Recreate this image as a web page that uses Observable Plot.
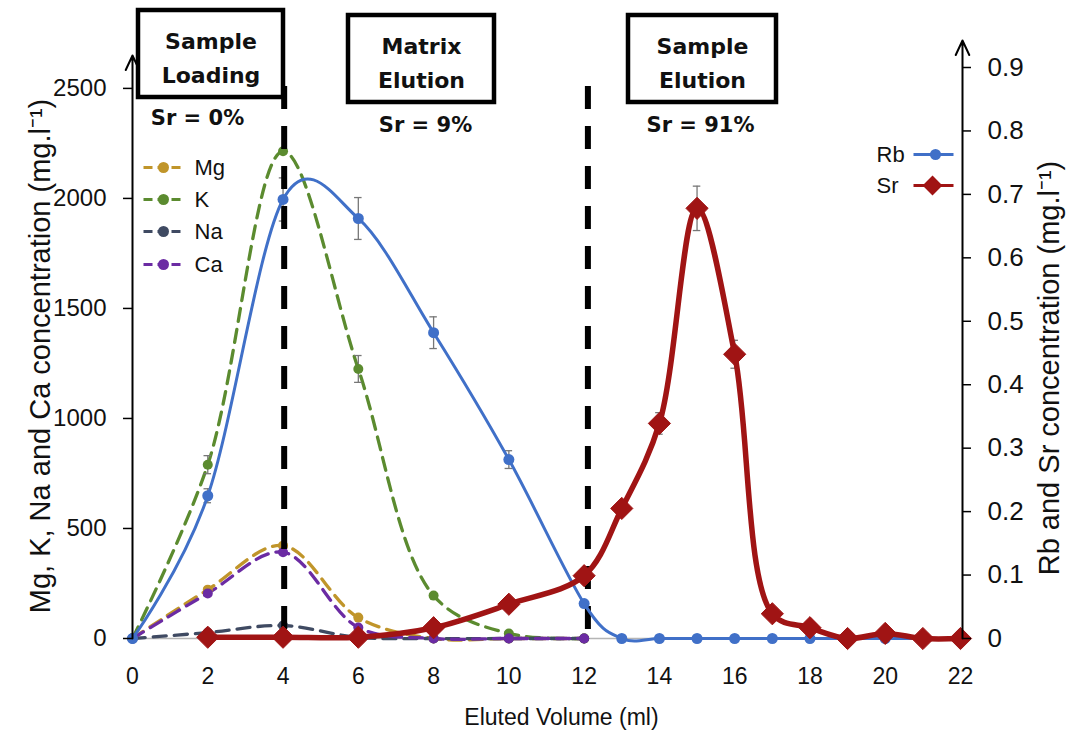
<!DOCTYPE html>
<html><head><meta charset="utf-8">
<script src="https://cdn.jsdelivr.net/npm/d3@7"></script>
<script src="https://cdn.jsdelivr.net/npm/@observablehq/plot@0.6"></script>
<style>
html,body{margin:0;padding:0;background:#fff;}
#chart svg{display:block;}
</style></head><body><div id="chart"></div>
<script>
// ---------- DATA ----------
// Left axis elements (mg.l-1)
const volumes = [0, 2, 4, 6, 8, 10, 12];
const mg = [0, 222, 422, 95, 0, 0, 0];
const kVals = [0, 790, 2214, 1225, 195, 23, 0];
const na = [0, 27, 59, 5, 0, 0, 0];
const ca = [0, 205, 392, 50, 0, 0, 0];
const kErr = [0, 41, 0, 61, 0, 0, 0];
// Right axis elements (mg.l-1)
const rbVolumes = [0, 2, 4, 6, 8, 10, 12, 13, 14, 15, 16, 17, 18, 19, 20, 21, 22];
const rb = [0, 0.225, 0.692, 0.662, 0.482, 0.282, 0.055, 0, 0, 0, 0, 0, 0, 0, 0, 0, 0];
const rbErr = [0, 0.011, 0.034, 0.033, 0.025, 0.014, 0, 0, 0, 0, 0, 0, 0, 0, 0, 0, 0];
const srVolumes = [2, 4, 6, 8, 10, 12, 13, 14, 15, 16, 17, 18, 19, 20, 21, 22];
const sr = [0.002, 0.002, 0.002, 0.017, 0.054, 0.099, 0.205, 0.339, 0.678, 0.448, 0.039, 0.017, 0, 0.008, 0, 0];
const srErr = [0, 0, 0, 0, 0, 0, 0, 0.017, 0.035, 0.022, 0, 0, 0, 0, 0, 0];
// Ticks and labels
const xTicks = [0, 2, 4, 6, 8, 10, 12, 14, 16, 18, 20, 22];
const leftTicks = [0, 500, 1000, 1500, 2000, 2500];
const rightTicks = [0, 0.1, 0.2, 0.3, 0.4, 0.5, 0.6, 0.7, 0.8, 0.9];
const leftNames = ["Mg", "K", "Na", "Ca"];
const rightNames = ["Rb", "Sr"];
const phaseNames = ["Sample\nLoading", "Matrix\nElution", "Sample\nElution"];
const phaseSr = ["Sr = 0%", "Sr = 9%", "Sr = 91%"];
const phaseBounds = [4, 12];
const xTitle = "Eluted Volume (ml)";
const yLeftTitle = "Mg, K, Na and Ca concentration (mg.l⁻¹)";
const yRightTitle = "Rb and Sr concentration (mg.l⁻¹)";

// ---------- LAYOUT / STYLE ----------
const W = 1077, H = 731, mL = 132, mR = 117, mT = 67, mB = 93;
const yTop = 2595, rTop = 0.9, kR = yTop / rTop;
const colors = {Mg: "#c0952a", K: "#5b8b2f", Na: "#3f4a62", Ca: "#6b2ba3", Rb: "#4070c8", Sr: "#a01414"};
const xd = px => (px - mL) / ((W - mL - mR) / 22);
const yd = py => (H - mB - py) / ((H - mB - mT) / yTop);
const font = "'Liberation Sans', Arial, sans-serif";
const boldFont = "'DejaVu Sans', sans-serif";

const leftRows = [];
const leftVals = {Mg: mg, K: kVals, Na: na, Ca: ca};
for (const n of leftNames) volumes.forEach((v, i) => leftRows.push({name: n, x: v, y: leftVals[n][i], e: n === "K" ? kErr[i] : 0}));
const rbRows = rbVolumes.map((v, i) => ({x: v, y: rb[i] * kR, e: rbErr[i] * kR}));
const srRows = srVolumes.map((v, i) => ({x: v, y: sr[i] * kR, e: srErr[i] * kR}));
const errRows = [...leftRows, ...rbRows, ...srRows].filter(d => d.e > 0);

const boxes = [
  {px1: 138, px2: 283, py1: 10, py2: 97},
  {px1: 348, px2: 494, py1: 15, py2: 102},
  {px1: 628, px2: 776, py1: 15, py2: 102}
].map((b, i) => ({...b, label: phaseNames[i], sr: phaseSr[i]}));
const srLabelPos = [[197, 118], [425, 125], [700, 125]];

const legL = leftNames.map((n, i) => ({name: n, py: [167, 199, 231, 264][i]}));
const legR = rightNames.map((n, i) => ({name: n, py: [154, 185][i]}));

const curve = "catmull-rom";
const dash = "13,8";

const marks = [
  // baseline
  Plot.ruleY([0], {stroke: "#b5b5b5", strokeWidth: 1.5}),
  // left series
  ...leftNames.map(n => Plot.line(leftRows.filter(d => d.name === n), {x: "x", y: "y", stroke: colors[n], strokeWidth: 3.3, strokeDasharray: dash, curve})),
  // error bars
  Plot.ruleX(errRows, {x: "x", y1: d => d.y - d.e, y2: d => d.y + d.e, stroke: "#777", strokeWidth: 1.3}),
  Plot.ruleY(errRows, {y: d => d.y - d.e, x1: d => d.x - 0.1, x2: d => d.x + 0.1, stroke: "#777", strokeWidth: 1.3}),
  Plot.ruleY(errRows, {y: d => d.y + d.e, x1: d => d.x - 0.1, x2: d => d.x + 0.1, stroke: "#777", strokeWidth: 1.3}),
  ...leftNames.map(n => Plot.dot(leftRows.filter(d => d.name === n), {x: "x", y: "y", r: 5, fill: colors[n]})),
  // phase boundaries
  Plot.ruleX(phaseBounds, {x: d => d + (d > 10 ? 0.1 : 0.03), y1: () => yd(86), y2: () => 0, stroke: "black", strokeWidth: 6, strokeDasharray: "23,17"}),
  // Rb
  Plot.line(rbRows, {x: "x", y: "y", stroke: colors.Rb, strokeWidth: 3, curve: "cardinal"}),
  Plot.dot(rbRows, {x: "x", y: "y", r: 5.5, fill: colors.Rb}),
  // Sr
  Plot.line(srRows, {x: "x", y: "y", stroke: colors.Sr, strokeWidth: 5.5, curve}),
  Plot.dot(srRows, {x: "x", y: "y", r: 10, symbol: "diamond2", fill: colors.Sr, stroke: colors.Sr, strokeWidth: 1}),
  // axis lines with arrows
  Plot.arrow([0], {x1: () => 0, x2: () => 0, y1: () => 0, y2: () => yd(55), stroke: "black", strokeWidth: 2, headLength: 12, headAngle: 50}),
  Plot.arrow([0], {x1: () => 22, x2: () => 22, y1: () => 0, y2: () => yd(40), stroke: "black", strokeWidth: 2, headLength: 12, headAngle: 50, dx: 2}),
  // axes
  Plot.axisX(xTicks, {tickSize: 0, tickPadding: 29, fontSize: 23, fontFamily: font, fill: "#111", label: null}),
  Plot.axisY(leftTicks, {anchor: "left", tickSize: 9, tickPadding: 17, fontSize: 24, fontFamily: font, fill: "#111", strokeWidth: 1.5, tickFormat: d => String(d), label: null}),
  Plot.axisY(rightTicks.map(v => v * kR), {anchor: "right", tickSize: 8, tickPadding: 17, dx: 2, fontSize: 26, fontFamily: font, fill: "#111", strokeWidth: 1.5, tickFormat: d => String(+(d / kR).toFixed(1)), label: null}),
  // titles
  Plot.text([xTitle], {text: d => d, frameAnchor: "bottom", lineAnchor: "middle", textAnchor: "middle", dy: 79, dx: 15, fontSize: 23, fontFamily: font, fill: "#111"}),
  Plot.text([yLeftTitle], {text: d => d, frameAnchor: "left", textAnchor: "middle", lineAnchor: "middle", rotate: -90, dx: -92, dy: 3, fontSize: 29, fontFamily: font, fill: "#111"}),
  Plot.text([yRightTitle], {text: d => d, frameAnchor: "right", textAnchor: "middle", lineAnchor: "middle", rotate: -90, dx: 89, dy: 15, fontSize: 29, fontFamily: font, fill: "#111"}),
  // phase boxes
  Plot.rect(boxes, {x1: d => xd(d.px1), x2: d => xd(d.px2), y1: d => yd(d.py2), y2: d => yd(d.py1), fill: "white", stroke: "black", strokeWidth: 4.5}),
  Plot.text(boxes, {x: d => xd((d.px1 + d.px2) / 2), y: d => yd((d.py1 + d.py2) / 2 + 1), text: "label", lineHeight: 1.55, fontSize: 22, fontWeight: "bold", fontFamily: boldFont, fill: "#111"}),
  Plot.text(boxes, {x: (d, i) => xd(srLabelPos[i][0]), y: (d, i) => yd(srLabelPos[i][1]), text: "sr", fontSize: 21, fontWeight: "bold", fontFamily: boldFont, fill: "#111"}),
  // left legend
  Plot.link(legL, {x1: () => xd(143), x2: () => xd(182), y1: d => yd(d.py), y2: d => yd(d.py), stroke: d => colors[d.name], strokeWidth: 3, strokeDasharray: "9,5"}),
  Plot.dot(legL, {x: () => xd(163), y: d => yd(d.py), r: 5.5, fill: d => colors[d.name]}),
  Plot.text(legL, {x: () => xd(194), y: d => yd(d.py), text: "name", textAnchor: "start", fontSize: 22, fontFamily: font, fill: "#111"}),
  // right legend
  Plot.link(legR, {x1: () => xd(913), x2: () => xd(953), y1: d => yd(d.py), y2: d => yd(d.py), stroke: d => colors[d.name], strokeWidth: 3}),
  Plot.dot(legR.filter(d => d.name === "Rb"), {x: () => xd(935), y: d => yd(d.py), r: 5.5, fill: colors.Rb}),
  Plot.dot(legR.filter(d => d.name === "Sr"), {x: () => xd(932), y: d => yd(d.py), r: 8, symbol: "diamond2", fill: colors.Sr, stroke: colors.Sr}),
  Plot.text(legR, {x: () => xd(876), y: d => yd(d.py), text: "name", textAnchor: "start", fontSize: 22, fontFamily: font, fill: "#111"})
];

const chart = Plot.plot({
  width: W, height: H,
  marginLeft: mL, marginRight: mR, marginTop: mT, marginBottom: mB,
  x: {domain: [0, 22], axis: null},
  y: {domain: [0, yTop], axis: null},
  style: {fontFamily: font, background: "white", overflow: "visible"},
  marks
});
document.getElementById("chart").appendChild(chart);
</script>
</body></html>
